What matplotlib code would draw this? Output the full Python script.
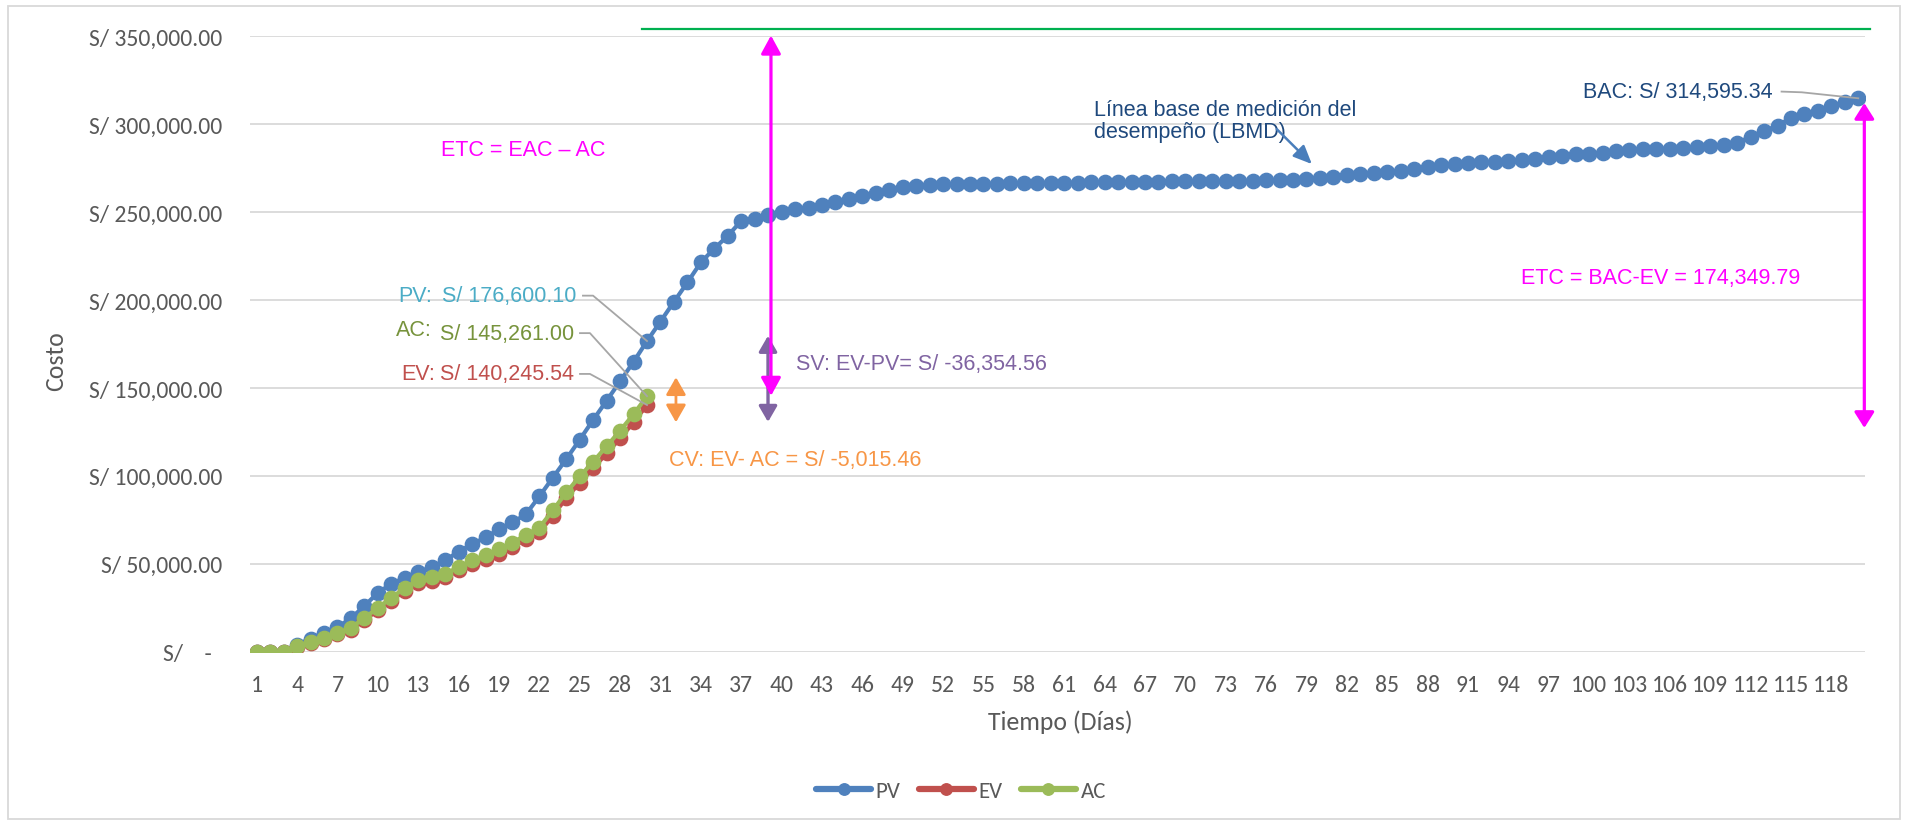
import matplotlib
matplotlib.use("Agg")
import matplotlib.pyplot as plt
from matplotlib import font_manager
from matplotlib.patches import FancyArrowPatch, Rectangle
from matplotlib.ticker import FuncFormatter, FixedLocator


def pick(*names):
    for n in names:
        try:
            font_manager.findfont(n, fallback_to_default=False)
            return n
        except Exception:
            continue
    return "DejaVu Sans"


UI_FONT = pick("Carlito", "Roboto", "Liberation Sans", "DejaVu Sans")
NOTE_FONT = pick("Liberation Sans", "Arial", "DejaVu Sans")

# ---- data (S/) ----
days = list(range(1, 121))

pv = [0, 0, 0, 4000, 7500, 10800, 14000, 19000, 26000, 33500,
      38600, 42100, 45400, 48000, 51900, 56900, 61100, 65000, 69600, 73500,
      78100, 88300, 98900, 109500, 120500, 131800, 142700, 153700, 164800, 176600.10,
      187700, 198900, 209900, 221300, 229200, 236400, 244900, 246200, 248100, 250000,
      251400, 252500, 254000, 255700, 257200, 259100, 260800, 262200, 263900, 264800,
      265200, 265600, 265700, 265900, 266000, 266100, 266200, 266300, 266400, 266500,
      266600, 266700, 266800, 266900, 267000, 267000, 267100, 267200, 267300, 267400,
      267400, 267500, 267600, 267700, 267800, 267900, 268000, 268300, 268900, 269500,
      270100, 270900, 271800, 272400, 272900, 273400, 274300, 275600, 276400, 277200,
      277600, 278200, 278500, 279200, 279500, 280300, 281300, 281800, 282700, 283200,
      283700, 284500, 285100, 285600, 285900, 286000, 286100, 286800, 287300, 288100,
      289200, 292800, 296000, 299000, 303400, 305500, 307600, 310400, 312300, 314595.336]

ev = [0, 0, 0, 2900, 4800, 7200, 10000, 12600, 18000, 23600,
      29100, 34700, 38900, 40400, 42200, 46200, 49800, 52500, 55800, 59500,
      63900, 67800, 77400, 87300, 96100, 104300, 112800, 121300, 130400, 140245.544]

ac = [0, 0, 0, 3200, 5300, 7900, 10800, 13600, 19200, 24900,
      30600, 36300, 40600, 42200, 44100, 48200, 51900, 54700, 58100, 61900,
      66400, 70500, 80400, 90500, 99600, 108000, 116800, 125600, 135000, 145261.00]

y_ticks = [0, 50000, 100000, 150000, 200000, 250000, 300000, 350000]
x_ticks = list(range(1, 121, 3))

# ---- derived indicators ----
status_day = len(ev)
pv_now, ev_now, ac_now = pv[status_day - 1], ev[status_day - 1], ac[status_day - 1]
bac = pv[-1]
sv = ev_now - pv_now
cv = ev_now - ac_now
etc_val = bac - ev_now


def soles(v):
    return f"S/ {v:,.2f}"


C_PV = "#4F81BD"
C_EV = "#C0504D"
C_AC = "#9BBB59"
C_GRID = "#D9D9D9"
C_TXT = "#595959"
MAGENTA = "#FF00FF"

W, H = 1908, 828
fig = plt.figure(figsize=(W / 100, H / 100), dpi=100)
fig.patch.set_facecolor("white")

left, right, top, bottom = 250, 1865, 37, 652.7
ax = fig.add_axes([left / W, 1 - bottom / H, (right - left) / W, (bottom - top) / H])
ax.set_xlim(0.5, 120.5)
ax.set_ylim(0, 350000)

for s in ax.spines.values():
    s.set_visible(False)

ax.yaxis.set_major_locator(FixedLocator(y_ticks))
ax.yaxis.set_major_formatter(FuncFormatter(lambda v, p: "S/    -  " if v == 0 else soles(v)))
ax.set_xticks(x_ticks)
ax.set_xticklabels([str(d) for d in x_ticks])
ax.grid(axis="y", color=C_GRID, lw=1.3, zorder=0)
ax.set_axisbelow(True)
ax.tick_params(axis="both", length=0, colors=C_TXT, labelsize=17)
ax.tick_params(axis="y", pad=20)
ax.tick_params(axis="x", pad=16)
for lab in ax.get_xticklabels() + ax.get_yticklabels():
    lab.set_fontfamily(UI_FONT)

ax.set_ylabel("Costo", fontsize=18.5, color=C_TXT, family=UI_FONT)
ax.yaxis.set_label_coords((67 - left) / (right - left), (bottom - 361) / (bottom - top))
ax.set_xlabel("Tiempo (Días)", fontsize=18.5, color=C_TXT, family=UI_FONT)
ax.xaxis.set_label_coords((1060 - left) / (right - left), (bottom - 710) / (bottom - top))

mk = dict(marker="o", markersize=10.3, lw=3.0, solid_capstyle="round")
ax.plot(days, pv, color=C_PV, mec=C_PV, label="PV", zorder=3, **mk)
ax.plot(days[:status_day], ev, color=C_EV, mec=C_EV, label="EV", zorder=4, **mk)
ax.plot(days[:status_day], ac, color=C_AC, mec=C_AC, label="AC", zorder=5, **mk)

leg = ax.legend(loc="center", bbox_to_anchor=(961 / W, 1 - 792 / H), bbox_transform=fig.transFigure,
                ncol=3, frameon=False, handlelength=2.4, handletextpad=0.2, columnspacing=0.8,
                markerscale=0.8, prop={"family": UI_FONT, "size": 16.5})
for t in leg.get_texts():
    t.set_color(C_TXT)
for h in leg.legend_handles:
    h.set_linewidth(4.5)


def arrow(x, y0, y1, color, lw, hw, hl, z=6):
    ax.add_patch(FancyArrowPatch((x, y0), (x, y1),
                                 arrowstyle=f"<|-|>,head_width={hw},head_length={hl}",
                                 mutation_scale=1, color=color, lw=lw, shrinkA=0, shrinkB=0,
                                 clip_on=False, zorder=z))


# baseline budget reference line
ax.plot([29.6, 120.9], [354200, 354200], color="#00B050", lw=1.6, clip_on=False, zorder=2)

# variance arrows
arrow(38.99, 130600, 179600, "#8064A2", 2.4, 5.5, 9.5, z=6)
arrow(39.21, 145400, 350300, MAGENTA, 2.3, 6, 11, z=7)
arrow(32.15, 130400, 156000, "#F79646", 2.0, 6, 10.5, z=6)
arrow(120.45, 127200, 311900, MAGENTA, 2.3, 6, 9.5, z=7)

fs = 15.5
tk = dict(fontsize=fs, family=NOTE_FONT, va="center", clip_on=False, zorder=8)

ax.text(20.78, 285200, "ETC = EAC \u2013 AC", color=MAGENTA, ha="center", **tk)
ax.text(105.3, 213000, f"ETC = BAC-EV = {etc_val:,.2f}", color=MAGENTA, ha="center", **tk)
ax.text(41.1, 163600, f"SV: EV-PV= {soles(sv)}", color="#8064A2", ha="left", **tk)
ax.text(31.6, 109500, f"CV: EV- AC = {soles(cv)}", color="#F79646", ha="left", **tk)

ax.text(63.2, 302000, "Línea base de medición del\ndesempeño (LBMD)", color="#1F497D",
        ha="left", linespacing=1.05, **tk)
ax.annotate("", xy=(79.4, 277200), xytext=(76.8, 297000),
            arrowprops=dict(arrowstyle="-|>,head_width=0.35,head_length=0.8", color="#4A7EBB",
                            lw=1.8, mutation_scale=14, shrinkA=0, shrinkB=0), zorder=8)

ax.text(113.6, 318200, f"BAC: {soles(bac)}", color="#1F497D", ha="right", **tk)

# data labels at status date
ax.text(11.50, 202400, "PV:", color="#4BACC6", ha="left", **tk)
ax.text(14.77, 202400, soles(pv_now), color="#4BACC6", ha="left", **tk)
ax.text(11.35, 183300, "AC:", color="#77933C", ha="left", **tk)
ax.text(14.62, 181100, soles(ac_now), color="#77933C", ha="left", **tk)
ax.text(11.72, 157900, "EV:", color=C_EV, ha="left", **tk)
ax.text(14.62, 157900, soles(ev_now), color=C_EV, ha="left", **tk)

lead = dict(color="#A6A6A6", lw=1.3, clip_on=False, zorder=9)
ax.plot([25.24, 25.99, status_day], [202400, 202400, pv_now], **lead)
ax.plot([25.02, 25.76, status_day], [181100, 181100, ac_now], **lead)
ax.plot([25.02, 25.76, status_day], [157900, 157900, ev_now], **lead)
ax.plot([114.3, 115.8, 120], [318400, 318000, bac], **lead)

# chart border
fig.add_artist(Rectangle((8 / W, 1 - 820 / H), (1900 - 8) / W, (820 - 7) / H,
                         transform=fig.transFigure, fill=False, edgecolor=C_GRID, lw=1.3))

fig.savefig("out.png", dpi=100, facecolor="white")
